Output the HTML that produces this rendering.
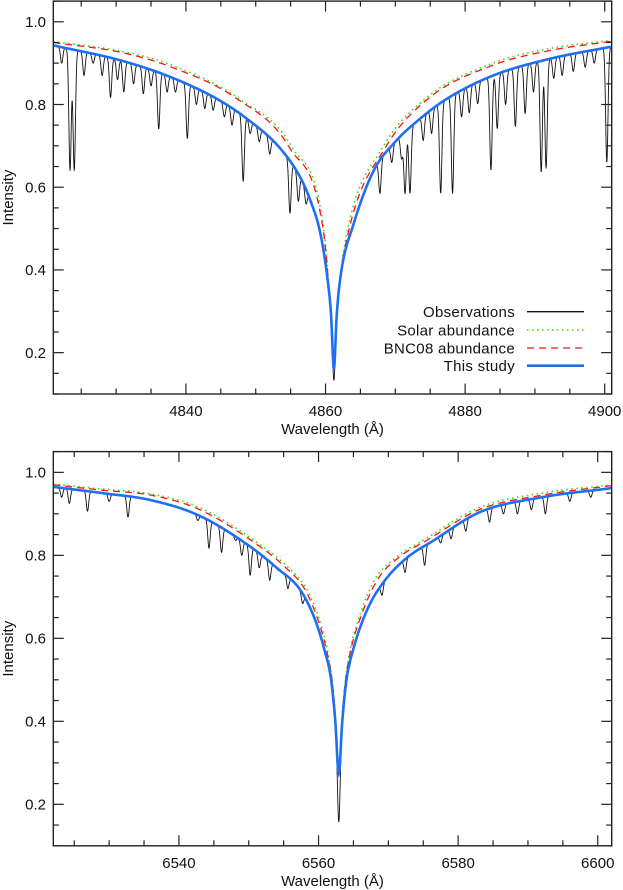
<!DOCTYPE html>
<html><head><meta charset="utf-8"><style>
html,body{margin:0;padding:0;background:#fff;}
svg{display:block;font-family:"Liberation Sans",sans-serif;}
</style></head><body>
<svg id="fig" width="623" height="890" viewBox="0 0 623 890" xmlns="http://www.w3.org/2000/svg"></svg>
<script>
// ---- H-beta panel data ----
const hbBlueWave=[4821,4831,4838,4844.4,4848.7,4853.5,4856.5,4858,4859.2,4860.2,4860.8,4861.2,4861.6,4862.2,4864.0,4866.9,4870,4873.5,4877.4,4884,4892,4901];
const hbBlueVal =[0.943,0.905,0.865,0.814,0.766,0.694,0.62,0.56,0.493,0.39,0.29,0.16,0.29,0.39,0.51,0.64,0.71,0.765,0.814,0.87,0.91,0.94];
const hbRedWave=[4821,4831,4838,4847.3,4854.9,4859.7,4860.6,4861.2,4861.8,4863.3,4868.5,4874.7,4884,4892,4901];
const hbRedVal =[0.95,0.925,0.89,0.814,0.694,0.493,0.33,0.17,0.33,0.493,0.694,0.814,0.895,0.93,0.953];
const hbGreenWave=[4821,4831,4838,4847.6,4855.3,4859.8,4860.6,4861.2,4861.8,4863.1,4868.1,4874.3,4884,4892,4901];
const hbGreenVal =[0.952,0.928,0.895,0.814,0.694,0.493,0.33,0.17,0.33,0.493,0.694,0.814,0.9,0.935,0.955];
const hbLineWave=[4822.2,4823.4,4824.0,4825.4,4826.7,4828.0,4829.2,4830.2,4831.1,4832.5,4833.9,4835.0,4836.1,4837.3,4838.5,4840.2,4841.5,4842.7,4843.9,4845.5,4846.6,4848.2,4849.2,4850.5,4852.0,4854.9,4856.1,4857.2,4861.2,4865.3,4866.2,4867.8,4869.5,4870.9,4871.4,4872.1,4874.0,4875.2,4876.5,4878.2,4879.5,4880.6,4881.8,4883.7,4884.6,4885.8,4887.2,4888.6,4889.8,4890.9,4891.6,4892.7,4893.9,4895.5,4897.2,4898.5,4900.3];
const hbLineMin =[0.9,0.641,0.641,0.87,0.9,0.87,0.817,0.86,0.83,0.85,0.826,0.845,0.74,0.83,0.83,0.718,0.8,0.79,0.786,0.77,0.75,0.614,0.73,0.71,0.68,0.537,0.566,0.56,0.133,0.6,0.61,0.585,0.66,0.67,0.585,0.585,0.713,0.73,0.585,0.585,0.77,0.78,0.802,0.641,0.742,0.8,0.747,0.778,0.83,0.636,0.646,0.863,0.87,0.88,0.89,0.9,0.66];
const hbXTicks=[4840,4860,4880,4900];
// ---- H-alpha panel data ----
const haBlueWave=[6522,6529,6536,6543,6550.3,6554,6557.4,6559.5,6560.8,6561.8,6562.4,6562.9,6563.4,6564.0,6565.0,6567,6569.3,6572.5,6576.5,6583.1,6592,6602];
const haBlueVal =[0.965,0.95,0.933,0.895,0.82,0.77,0.716,0.645,0.575,0.5,0.4,0.274,0.4,0.5,0.575,0.67,0.735,0.792,0.836,0.904,0.94,0.962];
const haRedWave=[6522,6529,6536,6543,6551.7,6555,6558.1,6560.2,6561.3,6562.0,6562.5,6562.9,6563.3,6563.8,6564.6,6565.8,6568.4,6571.5,6575.5,6583,6592,6602];
const haRedVal =[0.97,0.957,0.945,0.91,0.82,0.775,0.716,0.63,0.56,0.49,0.39,0.274,0.39,0.49,0.57,0.64,0.74,0.795,0.836,0.91,0.945,0.968];
const haGreenWave=[6522,6529,6536,6543,6552.1,6555.4,6558.4,6560.4,6561.4,6562.0,6562.5,6562.9,6563.3,6563.8,6564.5,6565.6,6568,6571.1,6575,6583,6592,6602];
const haGreenVal =[0.972,0.96,0.948,0.915,0.82,0.775,0.716,0.63,0.56,0.49,0.39,0.274,0.39,0.49,0.57,0.64,0.74,0.795,0.836,0.915,0.95,0.97];
const haLineWave=[6523.2,6524.3,6526.9,6530.0,6532.7,6538.5,6542.7,6544.3,6546.1,6548.1,6549.0,6550.2,6551.5,6553.0,6554.2,6555.6,6557.7,6562.9,6564.5,6566.8,6569.1,6572.4,6575.2,6577.5,6579.0,6581.1,6584.5,6586.5,6588.5,6590.5,6592.5,6596,6599];
const haLineMin =[0.94,0.925,0.906,0.93,0.892,0.92,0.884,0.817,0.807,0.836,0.8,0.752,0.77,0.74,0.764,0.72,0.684,0.157,0.535,0.66,0.704,0.759,0.776,0.83,0.84,0.858,0.88,0.9,0.9,0.91,0.9,0.93,0.94];
const haXTicks=[6540,6560,6580,6600];
const yTicks=[0.2,0.4,0.6,0.8,1.0];
const yTickLabels=["0.2","0.4","0.6","0.8","1.0"];
const legendLabels=["Observations","Solar abundance","BNC08 abundance","This study"];

const NS="http://www.w3.org/2000/svg";
const svg=document.getElementById('fig');
function mk(tag,attrs,parent){const e=document.createElementNS(NS,tag);for(const k in attrs)e.setAttribute(k,attrs[k]);(parent||svg).appendChild(e);return e;}

function monoInterp(xs,ys){
  const n=xs.length,d=[],m=new Array(n);
  for(let i=0;i<n-1;i++)d.push((ys[i+1]-ys[i])/(xs[i+1]-xs[i]));
  m[0]=d[0];m[n-1]=d[n-2];
  for(let i=1;i<n-1;i++){m[i]=(d[i-1]*d[i]<=0)?0:(d[i-1]+d[i])/2;}
  for(let i=0;i<n-1;i++){if(d[i]===0){m[i]=0;m[i+1]=0;continue;}const a=m[i]/d[i],b=m[i+1]/d[i];const s=a*a+b*b;if(s>9){const t=3/Math.sqrt(s);m[i]=t*a*d[i];m[i+1]=t*b*d[i];}}
  return function(x){
    if(x<=xs[0])return ys[0]; if(x>=xs[n-1])return ys[n-1];
    let i=0;while(x>xs[i+1])i++;
    const h=xs[i+1]-xs[i],t=(x-xs[i])/h,t2=t*t,t3=t2*t;
    return (2*t3-3*t2+1)*ys[i]+(t3-2*t2+t)*h*m[i]+(-2*t3+3*t2)*ys[i+1]+(t3-t2)*h*m[i+1];
  };
}

const X0=53.3,X1=611.7;
function panel(cfg){
  const {top,bot,wmin,wmax,blueW,blueV,redW,redV,greenW,greenV,lineW,lineMin,xticks,name,legend}=cfg;
  const ymin=0.1,ymax=1.05;
  const xs=w=>X0+(w-wmin)/(wmax-wmin)*(X1-X0);
  const ys=v=>bot-(v-ymin)/(ymax-ymin)*(bot-top);
  const g=mk('g',{});
  
  
  const clipId='clip-'+name;
  const cp=mk('clipPath',{id:clipId},g);mk('rect',{x:X0,y:top,width:X1-X0,height:bot-top},cp);
  const blue=monoInterp(blueW,blueV),red=monoInterp(redW,redV),green=monoInterp(greenW,greenV);
  const series=mk('g',{'clip-path':'url(#'+clipId+')'},g);
  let pts=[];
  for(let w=wmin;w<=wmax+1e-9;w+=0.04){
    let v=blue(w);
    for(let k=0;k<lineW.length;k++){
      const dw=w-lineW[k];if(Math.abs(dw)>1.2)continue;
      const base=blue(lineW[k]);const depth=Math.max(0,base-lineMin[k]);
      v-=depth*Math.exp(-0.5*(dw/0.17)*(dw/0.17));
    }
    pts.push(xs(w).toFixed(2)+','+ys(v).toFixed(2));
  }
  const obs=mk('polyline',{points:pts.join(' '),fill:'none',stroke:'#111','stroke-width':0.9,'stroke-linejoin':'round'},series);
  
  
  function curve(fn,attrs,nm){
    let p=[];for(let w=wmin;w<=wmax+1e-9;w+=0.05)p.push(xs(w).toFixed(2)+','+ys(fn(w)).toFixed(2));
    const e=mk('polyline',Object.assign({points:p.join(' '),fill:'none'},attrs),series);
    
    
  }
  curve(green,{stroke:'#33dd00','stroke-width':1.6,'stroke-dasharray':'1.5,3.5'},name+'-solar-abundance-line');
  curve(red,{stroke:'#ff1010','stroke-width':1.3,'stroke-dasharray':'7,5'},name+'-bnc08-abundance-line');
  curve(blue,{stroke:'#1f6ff2','stroke-width':2.6},name+'-this-study-line');
  const box=mk('rect',{x:X0,y:top,width:X1-X0,height:bot-top,fill:'none',stroke:'#222','stroke-width':1.4},g);
  
  
  for(let w=Math.ceil(wmin/5)*5;w<=wmax;w+=5){
    const major=(w%20===0),L=major?10.5:5.5,x=xs(w);
    mk('line',{x1:x,y1:bot,x2:x,y2:bot-L,stroke:'#222','stroke-width':1.2},g);
    mk('line',{x1:x,y1:top,x2:x,y2:top+L,stroke:'#222','stroke-width':1.2},g);
  }
  xticks.forEach(w=>{
    const t=mk('text',{x:xs(w),y:bot+22,'text-anchor':'middle','font-size':15,fill:'#111'},g);t.textContent=String(w);
    
    
  });
  for(let i=2;i<=21;i++){
    const v=i*0.05;if(v>ymax+1e-9)break;const major=(i%4===0),L=major?10.5:5.5,y=ys(v);
    mk('line',{x1:X0,y1:y,x2:X0+L,y2:y,stroke:'#222','stroke-width':1.2},g);
    mk('line',{x1:X1,y1:y,x2:X1-L,y2:y,stroke:'#222','stroke-width':1.2},g);
  }
  yTicks.forEach((v,i)=>{
    const t=mk('text',{x:46,y:ys(v)+5.3,'text-anchor':'end','font-size':15,fill:'#111'},g);t.textContent=yTickLabels[i];
    
    
  });
  const xt=mk('text',{x:(X0+X1)/2,y:bot+40,'text-anchor':'middle','font-size':15,fill:'#111'},g);xt.textContent='Wavelength (Å)';
  
  
  const cy=(top+bot)/2;
  const yt=mk('text',{x:13,y:cy,'text-anchor':'middle','font-size':15,fill:'#111',transform:'rotate(-90 13 '+cy+')'},g);yt.textContent='Intensity';
  
  
  if(legend){
    const lg=mk('g',{},g);
    
    
    const rows=[311.7,330,348,365.7];
    const styles=[{stroke:'#111','stroke-width':1.3},{stroke:'#33dd00','stroke-width':1.6,'stroke-dasharray':'1.5,3.5'},{stroke:'#ff1010','stroke-width':1.3,'stroke-dasharray':'7,5'},{stroke:'#1f6ff2','stroke-width':2.6}];
    legendLabels.forEach((lab,i)=>{
      const t=mk('text',{x:515,y:rows[i]+5.3,'text-anchor':'end','font-size':15,fill:'#111','letter-spacing':0.3},lg);t.textContent=lab;
      
      
      const l=mk('line',Object.assign({x1:527,y1:rows[i],x2:584,y2:rows[i]},styles[i]),lg);
      
      
    });
  }
}
panel({top:1.1,bot:394,wmin:4821,wmax:4901,blueW:hbBlueWave,blueV:hbBlueVal,redW:hbRedWave,redV:hbRedVal,greenW:hbGreenWave,greenV:hbGreenVal,lineW:hbLineWave,lineMin:hbLineMin,xticks:hbXTicks,name:'hbeta',legend:true});
panel({top:451.6,bot:845.8,wmin:6522,wmax:6602,blueW:haBlueWave,blueV:haBlueVal,redW:haRedWave,redV:haRedVal,greenW:haGreenWave,greenV:haGreenVal,lineW:haLineWave,lineMin:haLineMin,xticks:haXTicks,name:'halpha',legend:false});
</script>
</body></html>
